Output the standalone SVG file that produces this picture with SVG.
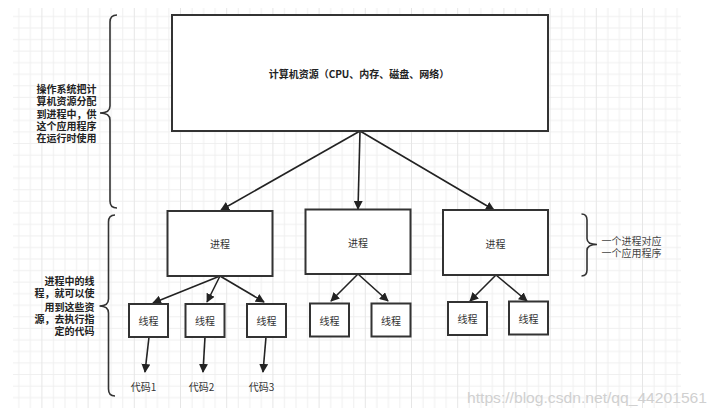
<svg xmlns="http://www.w3.org/2000/svg" width="717" height="415" viewBox="0 0 717 415">
<defs>
<pattern id="grid" patternUnits="userSpaceOnUse" x="41.4" y="4.45" width="46.2" height="46.2">
<path d="M0.5 0V46.2M12.05 0V46.2M23.6 0V46.2M35.15 0V46.2M0 0.5H46.2M0 12.05H46.2M0 23.6H46.2M0 35.15H46.2" stroke="#efefef" stroke-width="1" fill="none"/>
<path d="M0.5 0V46.2" stroke="#e6e6e6" stroke-width="1" fill="none"/>
</pattern>
<marker id="ah" viewBox="0 0 10 10" refX="9" refY="5" markerWidth="9" markerHeight="9" markerUnits="userSpaceOnUse" orient="auto">
<path d="M0,0 L10,5 L0,10 z" fill="#222"/>
</marker>
</defs>
<style>
.box{fill:#fff;stroke:#333;stroke-width:2}
.lbl{font-family:"Noto Sans CJK SC","Noto Sans",sans-serif;font-size:10px;fill:#333;text-anchor:middle;dominant-baseline:central}
.bold{font-weight:bold;fill:#222}
.note{font-family:"Noto Sans CJK SC","Noto Sans",sans-serif;font-size:10px;fill:#222;font-weight:bold;dominant-baseline:central}
.edge{stroke:#222;stroke-width:1.6;fill:none;marker-end:url(#ah)}
.brace{stroke:#333;stroke-width:1.6;fill:none}
</style>
<rect width="717" height="415" fill="#fff"/>
<rect x="13" y="8" width="668" height="400" fill="url(#grid)"/>

<g id="connectors">
<path class="edge" d="M360,131 L221,210"/>
<path class="edge" d="M360,131 L358,209"/>
<path class="edge" d="M360,131 L494,210"/>
<path class="edge" d="M220,276 L153,303"/>
<path class="edge" d="M220,276 L207,302"/>
<path class="edge" d="M220,276 L264,302"/>
<path class="edge" d="M358,274 L331,301"/>
<path class="edge" d="M358,274 L388,301"/>
<path class="edge" d="M496,275 L470,301"/>
<path class="edge" d="M496,275 L527,301"/>
<path class="edge" d="M149,337 L145,372"/>
<path class="edge" d="M205,337 L203,372"/>
<path class="edge" d="M266,337 L263,372"/>
</g>

<g id="resources">
<rect class="box" x="172" y="15" width="376" height="116"/>
<text class="lbl bold" x="359" y="73" font-size="10.5">计算机资源（CPU、内存、磁盘、网络）</text>
</g>

<g id="process1">
<rect class="box" x="167.5" y="211" width="105" height="65"/>
<text class="lbl" x="220" y="243.5">进程</text>
</g>
<g id="process2">
<rect class="box" x="305.5" y="209.5" width="105" height="64.5"/>
<text class="lbl" x="358" y="242">进程</text>
</g>
<g id="process3">
<rect class="box" x="443" y="210" width="105" height="65"/>
<text class="lbl" x="495.5" y="243">进程</text>
</g>

<g id="thread1">
<rect class="box" x="129" y="304" width="39" height="33"/>
<text class="lbl" x="148.5" y="320.5">线程</text>
</g>
<g id="thread2">
<rect class="box" x="185.5" y="304" width="39" height="33"/>
<text class="lbl" x="205" y="320.5">线程</text>
</g>
<g id="thread3">
<rect class="box" x="247" y="304" width="39" height="33"/>
<text class="lbl" x="266.5" y="320.5">线程</text>
</g>
<g id="thread4">
<rect class="box" x="310" y="303.5" width="39" height="33"/>
<text class="lbl" x="329.5" y="320">线程</text>
</g>
<g id="thread5">
<rect class="box" x="371.5" y="303.5" width="39" height="33"/>
<text class="lbl" x="391" y="320">线程</text>
</g>
<g id="thread6">
<rect class="box" x="448" y="302" width="39" height="33"/>
<text class="lbl" x="467.5" y="318.5">线程</text>
</g>
<g id="thread7">
<rect class="box" x="509" y="301.5" width="39" height="33"/>
<text class="lbl" x="528.5" y="318">线程</text>
</g>

<g id="code1"><text class="lbl" x="143.5" y="386.5" font-size="9.5">代码1</text></g>
<g id="code2"><text class="lbl" x="201.5" y="386.5" font-size="9.5">代码2</text></g>
<g id="code3"><text class="lbl" x="261.5" y="386.5" font-size="9.5">代码3</text></g>

<g id="brace-os">
<path class="brace" d="M117,15 Q110,15 110,22 L110,106 Q110,113 100,113 Q110,113 110,120 L110,201 Q110,208 117,208"/>
<text class="note" text-anchor="middle" x="66.5"><tspan x="66.5" y="88.3">操作系统把计</tspan><tspan x="66.5" y="100.3">算机资源分配</tspan><tspan x="66.5" y="112.5">到进程中，供</tspan><tspan x="66.5" y="124.8">这个应用程序</tspan><tspan x="66.5" y="136.8">在运行时使用</tspan></text>
</g>

<g id="brace-thread">
<path class="brace" d="M115,215 Q108.5,215 108.5,222 L108.5,299 Q108.5,306 99.5,306 Q108.5,306 108.5,313 L108.5,389 Q108.5,396 115,396"/>
<text class="note" text-anchor="end" x="94.5"><tspan x="94.5" y="280">进程中的线</tspan><tspan x="94.5" y="292.3">程，就可以使</tspan><tspan x="94.5" y="305.5">用到这些资</tspan><tspan x="94.5" y="318">源，去执行指</tspan><tspan x="94.5" y="330.3">定的代码</tspan></text>
</g>

<g id="brace-app">
<path class="brace" d="M581.5,214 Q587,214 587,220 L587,238.5 Q587,244.5 597,244.5 Q587,244.5 587,250.5 L587,270 Q587,276 581.5,276"/>
<text class="note" style="font-weight:normal;fill:#444" x="601.5"><tspan x="601.5" y="240">一个进程对应</tspan><tspan x="601.5" y="252.3">一个应用程序</tspan></text>
</g>

<text x="467" y="397" font-family="Liberation Sans, Arial, sans-serif" font-size="15" fill="#d0d0d0" dominant-baseline="central" textLength="240" lengthAdjust="spacingAndGlyphs">https://blog.csdn.net/qq_44201561</text>
</svg>
